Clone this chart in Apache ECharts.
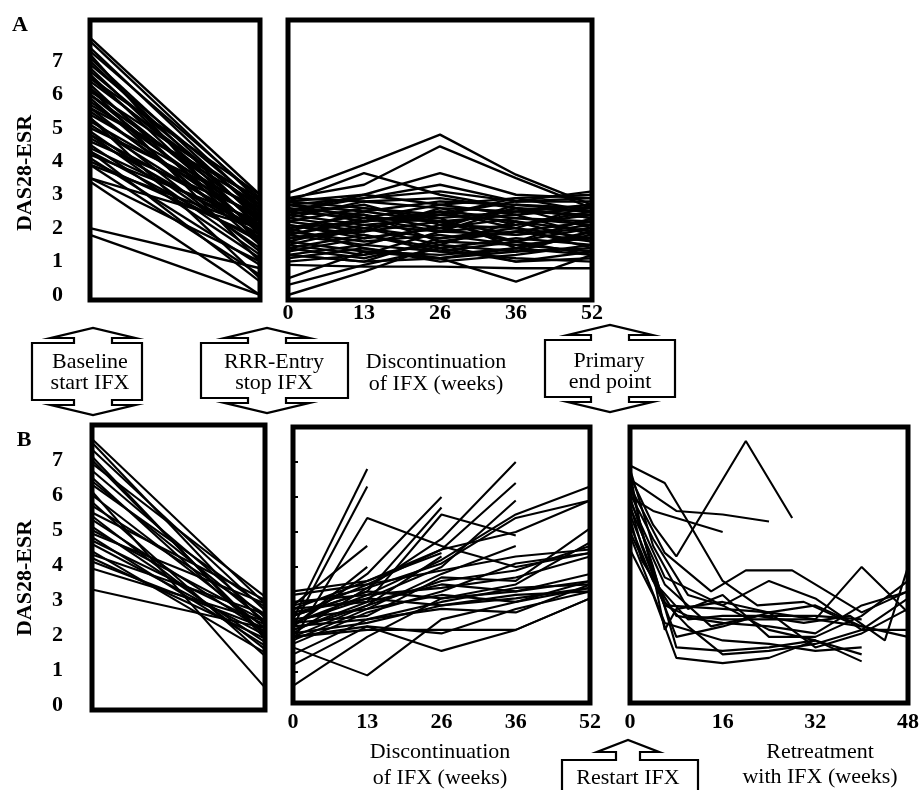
<!DOCTYPE html>
<html>
<head>
<meta charset="utf-8">
<script src="https://cdn.jsdelivr.net/npm/echarts@6/dist/echarts.min.js"></script>
<style>html,body{margin:0;background:#fff}#chart{width:919px;height:790px}</style>
</head>
<body>
<div id="chart"></div>
<script>
// ---- data (DAS28-ESR per patient) ----
var yTicks = [0, 1, 2, 3, 4, 5, 6, 7];
var bTickMarks = [1, 2, 3, 4, 5, 6, 7];
var phases = ['Baseline', 'RRR-Entry'];
var weeksOff = ['0', '13', '26', '36', '52'];

// A: baseline -> entry
var aInduction = [
  [7.7, 3.0], [7.6, 2.8], [7.4, 2.6], [7.3, 2.9], [7.1, 2.4], [7.0, 2.2], [6.9, 2.7], [6.8, 2.0],
  [6.7, 2.5], [6.6, 1.8], [6.5, 2.3], [6.4, 2.6], [6.3, 1.6], [6.2, 2.1], [6.1, 2.8], [6.0, 1.9],
  [6.0, 2.4], [5.9, 1.5], [5.8, 2.2], [5.7, 2.7], [5.6, 1.7], [5.5, 2.0], [5.4, 2.5], [5.3, 1.3],
  [5.2, 2.3], [5.1, 1.9], [5.0, 2.6], [4.9, 1.4], [4.8, 2.1], [4.7, 1.8], [4.6, 2.4], [4.5, 1.1],
  [4.4, 2.0], [4.3, 1.6], [4.2, 2.2], [4.1, 0.9], [4.0, 1.7], [3.9, 2.0], [3.9, 0.6], [3.5, 1.0],
  [3.4, 0.0], [3.5, 2.0], [2.0, 0.8], [1.8, 0.0], [6.5, 3.0], [5.6, 2.9], [4.8, 1.2], [7.2, 1.5],
  [5.3, 0.5], [6.2, 1.0], [4.3, 0.4]
];

// A: weeks 0, 13, 26, 36, 52 after stopping IFX
var aDiscont = [
  [3.05, 3.9, 4.8, 3.6, 2.7], [2.9, 3.3, 4.45, 3.5, 2.6], [2.8, 3.65, 3.0, 2.6, 2.5],
  [2.5, 3.0, 3.65, 3.0, 2.9], [2.7, 2.9, 3.3, 2.8, 3.1], [0.0, 0.7, 1.5, 1.3, 1.4],
  [1.2, 1.0, 1.1, 0.4, 1.2], [0.9, 0.85, 0.85, 0.8, 0.8], [1.2, 1.5, 1.3, 1.1, 1.0],
  [1.4, 1.1, 1.6, 1.5, 1.3], [1.5, 2.0, 1.7, 1.9, 1.6], [1.6, 1.3, 1.2, 1.4, 1.8],
  [1.7, 1.9, 2.2, 1.8, 2.0], [1.8, 2.3, 1.9, 2.1, 2.4], [1.9, 1.6, 1.8, 1.5, 1.7],
  [2.0, 2.2, 2.5, 2.3, 2.1], [2.1, 1.8, 1.4, 1.7, 1.5], [2.2, 2.6, 2.3, 2.5, 2.7],
  [2.3, 2.0, 2.4, 2.2, 1.9], [2.4, 2.7, 2.1, 2.6, 2.3], [2.5, 2.3, 2.7, 2.4, 2.6],
  [2.6, 2.4, 2.0, 2.3, 2.2], [2.7, 2.5, 2.8, 2.7, 2.5], [2.8, 2.6, 2.4, 2.8, 2.8],
  [2.9, 2.8, 2.6, 2.5, 2.4], [1.3, 1.7, 2.0, 1.6, 1.2], [1.1, 1.4, 1.0, 1.2, 1.5],
  [1.0, 1.2, 1.5, 1.0, 1.1], [0.5, 1.3, 1.1, 1.4, 1.2], [0.3, 0.9, 1.4, 1.0, 1.3],
  [1.8, 1.5, 2.1, 2.0, 1.4], [2.0, 2.4, 1.6, 1.9, 2.2], [2.2, 1.9, 2.6, 2.1, 2.5],
  [2.4, 2.1, 1.9, 2.6, 2.0], [1.6, 2.1, 2.3, 1.4, 1.9], [1.9, 2.5, 2.2, 2.4, 1.8],
  [2.6, 2.2, 2.5, 2.0, 2.7], [2.3, 2.8, 2.9, 2.6, 2.3], [1.5, 1.2, 1.9, 1.8, 2.1],
  [1.7, 2.0, 1.5, 2.2, 1.6], [2.8, 3.0, 2.7, 2.9, 3.0], [2.1, 1.7, 2.0, 2.7, 2.6],
  [1.4, 1.8, 1.3, 1.6, 2.3], [2.5, 2.9, 3.1, 2.8, 2.9], [1.2, 1.0, 1.7, 2.0, 1.7],
  [2.0, 1.4, 1.1, 1.3, 1.9], [2.7, 2.3, 2.2, 1.6, 2.0], [1.8, 2.2, 2.4, 2.9, 2.5]
];

// B: baseline -> entry
var bInduction = [
  [7.6, 2.9], [7.5, 2.3], [7.3, 2.7], [7.1, 1.9], [6.9, 3.1], [6.7, 2.5], [6.5, 2.0], [6.3, 2.8],
  [6.1, 0.5], [6.0, 2.2], [5.8, 1.4], [5.7, 2.6], [5.5, 3.0], [5.3, 2.1], [5.1, 1.8], [5.0, 2.4],
  [4.9, 2.9], [4.8, 1.7], [4.7, 2.3], [4.6, 2.0], [4.4, 1.5], [4.3, 2.6], [4.2, 1.9], [4.1, 2.2],
  [3.9, 2.4], [3.3, 2.2], [5.4, 1.6], [6.4, 2.4], [7.0, 2.0]
];

// B: after stopping IFX, each line ends at the flare
var bDiscont = [
  [2.5, 6.8], [2.3, 6.3], [2.9, 4.6], [1.9, 5.4, 4.6, 4.0, 4.4], [2.2, 3.0, 5.5, 4.9],
  [2.4, 3.2, 4.2, 5.5, 6.3], [2.6, 3.5, 4.5, 5.0, 5.9], [2.1, 3.4, 4.8, 7.0], [2.8, 3.6, 4.5, 6.4],
  [2.4, 3.1, 4.0, 5.9], [2.3, 3.8, 6.0], [2.6, 3.3, 5.7], [2.0, 2.3, 1.6, 2.2, 3.1],
  [1.7, 0.9, 2.5, 3.0, 3.4], [0.6, 2.0, 3.1, 3.3, 3.6], [1.2, 2.3, 2.1, 2.8, 3.3],
  [2.0, 2.2, 2.2, 2.2, 3.1], [2.3, 2.5, 2.8, 2.7, 3.5], [2.1, 2.4, 2.9, 3.1, 3.4],
  [2.5, 2.8, 3.2, 3.0, 3.6], [2.8, 3.0, 3.5, 3.3, 3.8], [3.0, 3.2, 3.4, 3.7, 4.3],
  [3.2, 3.5, 3.9, 4.3, 4.5], [2.2, 2.9, 3.6, 3.9, 4.6], [1.8, 2.7, 3.3, 4.1, 4.4],
  [2.6, 3.3, 3.1, 3.5, 4.7], [2.4, 2.6, 3.7, 3.6, 5.1], [2.9, 3.4, 4.1, 5.4, 5.9],
  [1.5, 2.5, 3.0, 3.4, 3.5], [2.7, 3.1, 2.9, 3.2, 3.3], [3.3, 3.6, 4.4], [1.9, 2.8, 3.8, 4.6],
  [2.0, 2.9, 4.3], [2.3, 4.0]
];

// B: retreatment [week, DAS28-ESR]
var bRetreat = [
  [[0, 6.6], [4, 5.2], [8, 4.3], [20, 7.6], [28, 5.4]],
  [[0, 6.9], [6, 6.4], [10, 5.3], [16, 3.6], [22, 2.9], [30, 3.0], [38, 2.4]],
  [[0, 6.5], [8, 5.6], [16, 5.5], [24, 5.3]],
  [[0, 6.0], [4, 5.6], [12, 5.2], [16, 5.0]],
  [[0, 6.7], [2, 5.0], [6, 2.9], [10, 2.6], [16, 2.5], [24, 2.5], [32, 2.5], [40, 2.3], [48, 2.0]],
  [[0, 6.4], [4, 3.8], [6, 2.2], [8, 2.8], [16, 3.0], [24, 2.7], [32, 2.9], [40, 2.3]],
  [[0, 6.0], [4, 4.0], [8, 1.7], [16, 1.6], [24, 1.7], [32, 1.9], [40, 1.5]],
  [[0, 5.5], [6, 3.0], [10, 2.3], [16, 1.5], [24, 1.6], [32, 1.8], [40, 2.2], [48, 3.1]],
  [[0, 5.2], [4, 3.6], [10, 2.5], [16, 2.6], [24, 2.6], [32, 2.6], [40, 2.5]],
  [[0, 4.5], [4, 3.2], [8, 1.4], [16, 1.25], [24, 1.4], [32, 1.9]],
  [[0, 5.7], [6, 3.5], [14, 2.3], [22, 2.6], [30, 2.4], [38, 2.6], [44, 1.9], [48, 4.0]],
  [[0, 5.0], [6, 2.9], [16, 2.8], [24, 2.7], [32, 2.5], [40, 4.0], [48, 2.7]],
  [[0, 6.3], [6, 4.4], [14, 3.3], [20, 3.9], [28, 3.9], [40, 2.7], [48, 3.3]],
  [[0, 5.9], [6, 3.7], [16, 2.9], [24, 3.6], [32, 3.1], [40, 2.2], [48, 2.2]],
  [[0, 6.1], [4, 4.8], [10, 3.2], [16, 2.9], [24, 2.2], [32, 1.9], [40, 1.3]],
  [[0, 4.9], [6, 2.4], [16, 1.9], [24, 1.8], [32, 1.6], [40, 1.7]],
  [[0, 5.4], [2, 4.2], [8, 2.6], [16, 2.4], [24, 2.3], [32, 2.1], [40, 2.9], [48, 3.3]],
  [[0, 6.8], [4, 4.6], [10, 2.8], [16, 3.2], [24, 2.0], [32, 2.0], [40, 2.6], [48, 3.6]],
  [[0, 5.8], [2, 4.6], [8, 2.0], [16, 2.3], [24, 2.7], [32, 1.7], [40, 2.1], [48, 2.8]]
];

var FONT = '"Liberation Serif", "DejaVu Serif", serif';

// ---- layout ----
var grids = [
  {left: 90, top: 20, width: 170, height: 280},   // A induction
  {left: 288, top: 20, width: 304, height: 280},  // A discontinuation
  {left: 92, top: 425, width: 173, height: 285},  // B induction
  {left: 293, top: 427, width: 297, height: 276}, // B discontinuation
  {left: 630, top: 427, width: 278, height: 276}  // B retreatment
];
var yRanges = [[-0.15, 8.23], [-0.15, 8.23], [-0.14, 8.0], [0.11, 8.0], [0.11, 8.0]];

function tickLabel(margin) {
  return {show: true, interval: 0, margin: margin, color: '#000', fontSize: 22,
          fontFamily: FONT, fontWeight: 'bold'};
}

var xAxes = [
  {type: 'category', data: phases, boundaryGap: false, axisLabel: {show: false}},
  {type: 'category', data: weeksOff, boundaryGap: false, axisLabel: tickLabel(2)},
  {type: 'category', data: phases, boundaryGap: false, axisLabel: {show: false}},
  {type: 'category', data: weeksOff, boundaryGap: false, axisLabel: tickLabel(8)},
  {type: 'value', min: 0, max: 48, interval: 16, axisLabel: tickLabel(8)}
].map(function (ax, i) {
  ax.gridIndex = i;
  ax.axisLine = {show: false};
  ax.axisTick = {show: false};
  ax.splitLine = {show: false};
  return ax;
});

var yAxes = yRanges.map(function (r, i) {
  var labelled = (i === 0 || i === 2);
  return {
    type: 'value', gridIndex: i, min: r[0], max: r[1],
    axisLine: {show: false},
    splitLine: {show: false},
    axisTick: i === 3
      ? {show: true, inside: true, length: 5, customValues: bTickMarks, lineStyle: {color: '#000', width: 2}}
      : {show: false},
    axisLabel: labelled
      ? {show: true, customValues: yTicks, margin: i === 0 ? 27 : 29, color: '#000',
         fontSize: 22, fontFamily: FONT, fontWeight: 'bold'}
      : {show: false}
  };
});

function lineSeries(data, gi) {
  return {
    type: 'line', xAxisIndex: gi, yAxisIndex: gi, data: data,
    symbol: 'none', silent: true, animation: false,
    lineStyle: {color: '#000', width: gi < 2 ? 2.4 : 2.1}
  };
}

var series = [];
aInduction.forEach(function (d) { series.push(lineSeries(d, 0)); });
aDiscont.forEach(function (d) { series.push(lineSeries(d, 1)); });
bInduction.forEach(function (d) { series.push(lineSeries(d, 2)); });
bDiscont.forEach(function (d) { series.push(lineSeries(d, 3)); });
bRetreat.forEach(function (d) { series.push(lineSeries(d, 4)); });

// ---- annotation arrows and texts ----
function arrowBox(L, R, T, B, cx, upper, lower) {
  var sw = 19, hw = 42, neck = 5, head = 10, p = [];
  p.push([L, T]);
  if (upper) {
    p.push([cx - sw, T], [cx - sw, T - neck], [cx - hw, T - neck], [cx, T - neck - head],
           [cx + hw, T - neck], [cx + sw, T - neck], [cx + sw, T]);
  }
  p.push([R, T], [R, B]);
  if (lower) {
    p.push([cx + sw, B], [cx + sw, B + neck], [cx + hw, B + neck], [cx, B + neck + head],
           [cx - hw, B + neck], [cx - sw, B + neck], [cx - sw, B]);
  }
  p.push([L, B]);
  return {type: 'polygon', shape: {points: p}, style: {fill: '#fff', stroke: '#000', lineWidth: 2.2}, z: 10};
}

function restartBox() {
  var L = 562, R = 698, T = 760, B = 800, cx = 628;
  return {type: 'polygon', z: 10,
    shape: {points: [[L, B], [L, T], [cx - 12, T], [cx - 12, 752], [cx - 31, 752], [cx, 740],
                     [cx + 31, 752], [cx + 12, 752], [cx + 12, T], [R, T], [R, B]]},
    style: {fill: '#fff', stroke: '#000', lineWidth: 2.2}};
}

function label(text, x, y, opts) {
  opts = opts || {};
  return {type: 'text', x: x, y: y, z: 11, rotation: opts.rot || 0,
    style: {text: text, fill: '#000', textAlign: 'center', textVerticalAlign: 'middle',
            font: (opts.bold ? 'bold ' : '') + (opts.size || 22) + 'px ' + FONT}};
}

var graphics = [
  arrowBox(32, 142, 343, 400, 93, true, true),
  arrowBox(201, 348, 343, 398, 267, true, true),
  arrowBox(545, 675, 340, 397, 610, true, true),
  restartBox(),
  label('A', 20, 25, {bold: true}),
  label('B', 24, 440, {bold: true}),
  label('DAS28-ESR', 25, 173, {bold: true, rot: Math.PI / 2}),
  label('DAS28-ESR', 25, 578, {bold: true, rot: Math.PI / 2}),
  label('Baseline', 90, 362), label('start IFX', 90, 383),
  label('RRR-Entry', 274, 362), label('stop IFX', 274, 383),
  label('Discontinuation', 436, 362), label('of IFX (weeks)', 436, 384),
  label('Primary', 609, 361), label('end point', 610, 382),
  label('Discontinuation', 440, 752), label('of IFX (weeks)', 440, 778),
  label('Retreatment', 820, 752), label('with IFX (weeks)', 820, 777),
  label('Restart IFX', 628, 778)
];

var chart = echarts.init(document.getElementById('chart'));
chart.setOption({
  animation: false,
  backgroundColor: '#fff',
  grid: grids.map(function (g) {
    return Object.assign({show: true, borderColor: '#000', borderWidth: 5,
                          backgroundColor: 'transparent', outerBoundsMode: 'none', containLabel: false}, g);
  }),
  xAxis: xAxes,
  yAxis: yAxes,
  series: series,
  graphic: graphics
});
</script>
</body>
</html>
